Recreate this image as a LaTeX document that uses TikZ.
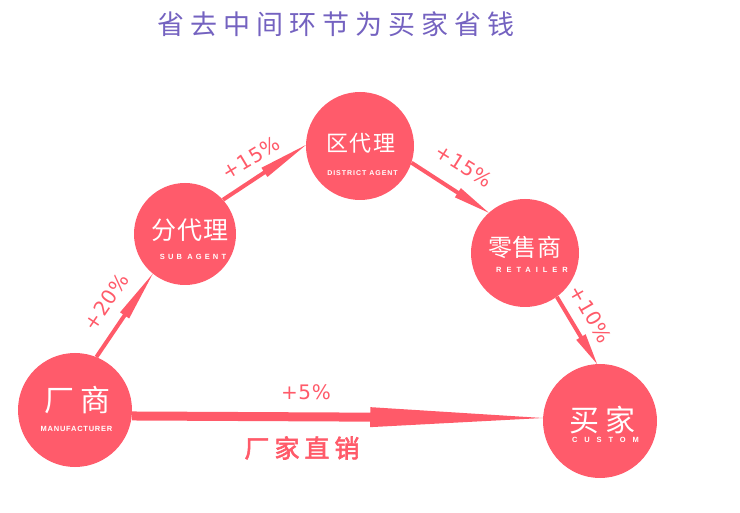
\documentclass[tikz,border=0pt]{standalone}
\usepackage{fontspec}
\setmainfont{Liberation Sans}
\newfontfamily\cjk{Noto Sans CJK SC}
\newfontfamily\cjkbold{Noto Sans CJK SC}[FakeBold=2.5]
\newfontfamily\pctfont{DejaVu Sans}
\usetikzlibrary{calc,backgrounds}
\definecolor{circ}{HTML}{FF5B6B}
\definecolor{arr}{HTML}{FF5A69}
\definecolor{ttl}{HTML}{7462C0}
\newcommand{\pinkarrow}[5]{%
  \path (#1) -- (#2) coordinate[pos=#5] (hb);
  \fill[arr] ($(#1)!#3!90:(#2)$) -- ($(hb)!#3!-90:(#1)$) -- ($(hb)!#4!-90:(#1)$)
    -- (#2) -- ($(hb)!#4!90:(#1)$) -- ($(hb)!#3!90:(#1)$) -- ($(#1)!#3!-90:(#2)$) -- cycle;
}
\begin{document}
\begin{tikzpicture}[x=1pt,y=-1pt,
  bubble/.style={circle,fill=circ,inner sep=0pt},
  zh/.style={text=white,inner sep=0pt},
  en/.style={text=white,inner sep=0pt},
  pct/.style={text=arr,inner sep=0pt,font=\pctfont\fontsize{20}{22}\selectfont\addfontfeature{LetterSpace=3}}]
\useasboundingbox (0,0) rectangle (740,513);

% title
\node[text=ttl,inner sep=0pt,font=\cjk\fontsize{27}{30}\selectfont\addfontfeature{LetterSpace=22}] (title) at (336,24) {省去中间环节为买家省钱};

% bubbles
\node[bubble,minimum size=114pt] (m) at (75,410) {};
\node[bubble,minimum size=102pt] (s) at (185,234) {};
\node[bubble,minimum size=108pt] (q) at (360,146) {};
\node[bubble,minimum size=108pt] (r) at (525,253) {};
\node[bubble,minimum size=114pt] (c) at (600,421) {};

% bubble texts
\node[zh,font=\cjk\fontsize{30}{32}\selectfont\addfontfeature{LetterSpace=17}] (mzh) at (77.5,400) {厂商};
\node[en,font=\fontsize{7.5}{8}\selectfont\bfseries\addfontfeature{LetterSpace=10}] (men) at (76.5,429) {MANUFACTURER};

\node[zh,font=\cjk\fontsize{25}{27}\selectfont\addfontfeature{LetterSpace=4}] (szh) at (189.5,230) {分代理};
\node[en,font=\fontsize{7.5}{9}\selectfont\bfseries\addfontfeature{LetterSpace=42}] (sen) at (193,257) {SUB AGENT};

\node[zh,font=\cjk\fontsize{22}{24}\selectfont\addfontfeature{LetterSpace=5}] (qzh) at (361,143) {区代理};
\node[en,font=\fontsize{7}{8}\selectfont\bfseries\addfontfeature{LetterSpace=14}] (qen) at (362.5,173) {DISTRICT AGENT};

\node[zh,font=\cjk\fontsize{24}{26}\selectfont\addfontfeature{LetterSpace=4}] (rzh) at (525,247) {零售商};
\node[en,font=\fontsize{7.5}{8}\selectfont\bfseries\addfontfeature{LetterSpace=66}] (ren) at (532,270) {RETAILER};

\node[zh,font=\cjk\fontsize{30}{32}\selectfont\addfontfeature{LetterSpace=17}] (czh) at (602.5,420) {买家};
\node[en,font=\fontsize{7.5}{8}\selectfont\bfseries\addfontfeature{LetterSpace=92}] (cen) at (605.5,440) {CUSTOM};

% arrows
\begin{scope}[on background layer]
\pinkarrow{m.68}{s.231}{2pt}{5.5pt}{0.5}
\pinkarrow{s.42}{q.179}{2pt}{5.5pt}{0.5}
\pinkarrow{q.342}{r.132}{2pt}{5.5pt}{0.6}
\pinkarrow{r.306}{c.93}{2pt}{5.5pt}{0.6}
\pinkarrow{m.354}{c.177}{4.5pt}{10pt}{0.58}
\end{scope}

% percentage labels
\node[pct,rotate=56] (p1) at (106,302) {+20\%};
\node[pct,rotate=31] (p2) at (251,158) {+15\%};
\node[pct,rotate=-32] (p3) at (464,166) {+15\%};
\node[pct,rotate=-60] (p4) at (591,314) {+10\%};
\node[pct] (p5) at (306,392) {+5\%};

\node[text=arr,inner sep=0pt,font=\cjkbold\fontsize{25}{27}\selectfont\addfontfeature{LetterSpace=20}] (direct) at (302,448) {厂家直销};
\end{tikzpicture}
\end{document}
